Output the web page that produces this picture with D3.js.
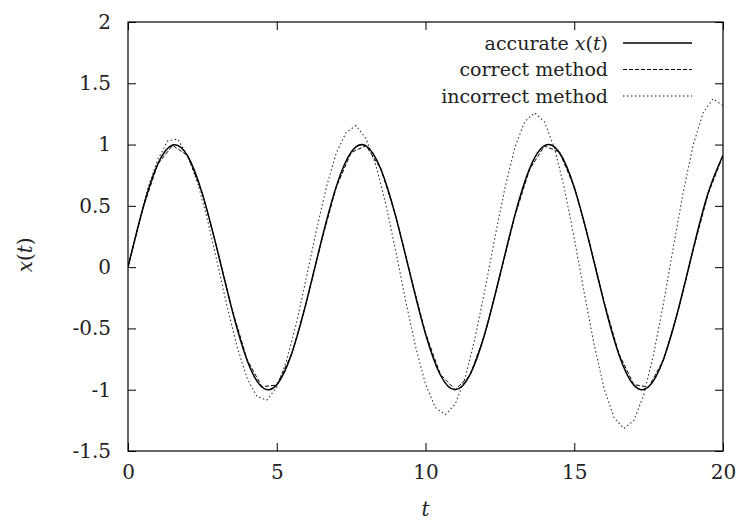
<!DOCTYPE html>
<html>
<head>
<meta charset="utf-8">
<script src="https://cdn.jsdelivr.net/npm/d3@7"></script>
<style>
  body { margin: 0; background: #fff; }
  svg text { font-family: "DejaVu Serif", serif; fill: #222; }
</style>
</head>
<body>
<svg id="chart" width="744" height="529"></svg>
<script>
// accurate x(t), sampled every 0.5
var accT = d3.range(41).map(function (i) { return i * 0.5; });
var accurate = [0, 0.479, 0.841, 0.997, 0.909, 0.598, 0.141, -0.351, -0.757, -0.978,
    -0.959, -0.706, -0.279, 0.215, 0.657, 0.938, 0.989, 0.798, 0.412, -0.075,
    -0.544, -0.880, -1.000, -0.875, -0.537, -0.066, 0.420, 0.804, 0.991, 0.935,
    0.650, 0.206, -0.288, -0.712, -0.961, -0.976, -0.751, -0.342, 0.150, 0.605, 0.913];

// correct method, same grid
var correct = [0, 0.478, 0.840, 0.993, 0.912, 0.602, 0.146, -0.346, -0.752, -0.975,
    -0.962, -0.712, -0.285, 0.209, 0.652, 0.935, 0.991, 0.803, 0.419, -0.068,
    -0.538, -0.876, -0.999, -0.880, -0.544, -0.073, 0.413, 0.799, 0.989, 0.939,
    0.656, 0.213, -0.281, -0.706, -0.958, -0.979, -0.757, -0.349, 0.143, 0.598, 0.909];

// incorrect method, sampled every 1/3
var incT = d3.range(61).map(function (i) { return i / 3; });
var incorrect = [0, 0.34, 0.645, 0.876, 1.03, 1.045, 0.911, 0.693, 0.391, 0.039,
    -0.323, -0.649, -0.905, -1.055, -1.085, -0.979, -0.760, -0.452, -0.081, 0.301,
    0.651, 0.931, 1.10, 1.155, 1.048, 0.830, 0.514, 0.130, -0.275, -0.649,
    -0.955, -1.146, -1.203, -1.117, -0.902, -0.578, -0.182, 0.243, 0.642, 0.974,
    1.187, 1.259, 1.185, 0.972, 0.645, 0.236, -0.207, -0.631, -0.987, -1.226,
    -1.317, -1.252, -1.045, -0.712, -0.295, 0.167, 0.616, 0.998, 1.261, 1.373, 1.318];

var xTicks = [0, 5, 10, 15, 20];
var yTicks = [-1.5, -1, -0.5, 0, 0.5, 1, 1.5, 2];
var legendLabels = ["accurate", "correct method", "incorrect method"];

var svg = d3.select("#chart");
var margin = { left: 128, right: 21, top: 22, bottom: 78 };
var width = 744 - margin.left - margin.right;
var height = 529 - margin.top - margin.bottom;

var x = d3.scaleLinear().domain([0, 20]).range([0, width]);
var y = d3.scaleLinear().domain([-1.5, 2]).range([height, 0]);

var g = svg.append("g").attr("transform", "translate(" + margin.left + "," + margin.top + ")");

// ticks on all four sides, pointing inward
var tick = 8;
function drawAxes() {
    var bottom = g.append("g").attr("transform", "translate(0," + height + ")")
        .call(d3.axisBottom(x).tickValues(xTicks).tickSizeInner(-tick).tickSizeOuter(0).tickPadding(14));
    var top = g.append("g")
        .call(d3.axisTop(x).tickValues(xTicks).tickSizeInner(-tick).tickSizeOuter(0).tickFormat(""));
    var left = g.append("g")
        .call(d3.axisLeft(y).tickValues(yTicks).tickSizeInner(-tick).tickSizeOuter(0).tickPadding(17)
            .tickFormat(function (d) { return String(d); }));
    var right = g.append("g").attr("transform", "translate(" + width + ",0)")
        .call(d3.axisRight(y).tickValues(yTicks).tickSizeInner(-tick).tickSizeOuter(0).tickFormat(""));

    [bottom, top, left, right].forEach(function (a) {
        a.select(".domain").remove();
        a.selectAll(".tick line").attr("stroke", "#000").attr("stroke-width", 1);
        a.selectAll("text").style("font-size", "20px").attr("fill", "#111");
    });
    bottom.selectAll("text").attr("dy", "0.71em");

    g.append("rect")
        .attr("width", width).attr("height", height)
        .attr("fill", "none").attr("stroke", "#000").attr("stroke-width", 1.2);
}
drawAxes();

var line = d3.line()
    .x(function (d) { return x(d[0]); })
    .y(function (d) { return y(d[1]); });

var clip = g.append("clipPath").attr("id", "clip")
    .append("rect").attr("width", width).attr("height", height);

var plot = g.append("g").attr("clip-path", "url(#clip)");

plot.append("path")
    .datum(d3.zip(incT, incorrect))
    .attr("d", line)
    .attr("fill", "none")
    .attr("stroke", "#333")
    .attr("stroke-width", 1.1)
    .attr("stroke-dasharray", "1.5,2.5");

plot.append("path")
    .datum(d3.zip(accT, correct))
    .attr("d", line)
    .attr("fill", "none")
    .attr("stroke", "#000")
    .attr("stroke-width", 1)
    .attr("stroke-dasharray", "4,2");

plot.append("path")
    .datum(d3.zip(accT, accurate))
    .attr("d", line.curve(d3.curveNatural))
    .attr("fill", "none")
    .attr("stroke", "#000")
    .attr("stroke-width", 1.5);

// legend
var dashes = [null, "4,2", "1.5,2.5"];
var legend = g.append("g").attr("transform", "translate(" + (width - 100) + ",0)");
legendLabels.forEach(function (lab, i) {
    var yy = 21 + i * 26.5;
    var t = legend.append("text")
        .attr("x", -15).attr("y", yy).attr("dy", "0.35em")
        .attr("text-anchor", "end")
        .style("font-size", "19px");
    t.append("tspan").text(lab);
    if (i === 0) {
        t.append("tspan").text(" ");
        t.append("tspan").style("font-style", "italic").text("x");
        t.append("tspan").text("(");
        t.append("tspan").style("font-style", "italic").text("t");
        t.append("tspan").text(")");
    }
    legend.append("line")
        .attr("x1", 0).attr("x2", 69).attr("y1", yy).attr("y2", yy)
        .attr("stroke", "#000")
        .attr("stroke-width", i === 0 ? 1.3 : 1)
        .attr("stroke-dasharray", dashes[i]);
});

// axis titles
svg.append("text")
    .attr("x", margin.left + width / 2).attr("y", 516)
    .attr("text-anchor", "middle")
    .style("font-size", "20px").style("font-style", "italic")
    .text("t");

var yl = svg.append("text")
    .attr("transform", "translate(32," + (margin.top + y(0.1)) + ") rotate(-90)")
    .attr("text-anchor", "middle")
    .style("font-size", "20px");
yl.append("tspan").style("font-style", "italic").text("x");
yl.append("tspan").text("(");
yl.append("tspan").style("font-style", "italic").text("t");
yl.append("tspan").text(")");
</script>
</body>
</html>
